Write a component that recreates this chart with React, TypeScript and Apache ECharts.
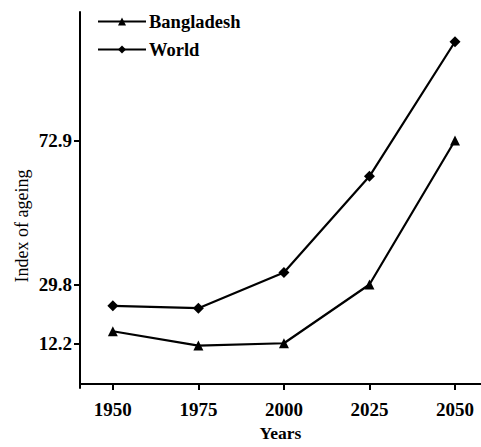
import React, { useEffect, useRef } from "react";
import * as echarts from "echarts";

const years = [1950, 1975, 2000, 2025, 2050];
const bangladesh = [15.8, 11.5, 12.2, 29.8, 72.9];
const world = [23.4, 22.7, 33.4, 62.2, 102.5];
const yTicks = [12.2, 29.8, 72.9];
const seriesNames = ["Bangladesh", "World"];

const FONT = "'Liberation Serif', 'Times New Roman', serif";

export default function App() {
  const ref = useRef<HTMLDivElement>(null);
  useEffect(() => {
    if (!ref.current) return;
    const chart = echarts.init(ref.current, undefined, { renderer: "svg" });
    const axisLine = { show: true, lineStyle: { color: "#000", width: 2 } };
    chart.setOption({
      animation: false,
      backgroundColor: "#fff",
      textStyle: { fontFamily: FONT, color: "#000" },
      grid: { left: 80, right: 0, top: 12, bottom: 58 },
      legend: {
        orient: "vertical",
        left: 97,
        top: 12,
        padding: 0,
        itemWidth: 48,
        itemHeight: 10,
        itemGap: 9,
        data: seriesNames,
        textStyle: { fontFamily: FONT, fontSize: 18.5, color: "#000", fontWeight: "bold", padding: [0, 0, 0, -2] },
      },
      xAxis: {
        type: "value",
        min: 1940.4,
        max: 2057.6,
        axisLine,
        splitLine: { show: false },
        axisTick: { show: true, length: 6, lineStyle: { color: "#000", width: 2 }, customValues: years },
        axisLabel: {
          customValues: years,
          margin: 12,
          fontFamily: FONT,
          fontSize: 19,
          fontWeight: "bold",
          color: "#000",
          formatter: (v: number) => String(v),
        },
        name: "Years",
        nameLocation: "middle",
        nameGap: 36,
        nameTextStyle: { fontFamily: FONT, fontSize: 17.5, color: "#000", fontWeight: "bold" },
      },
      yAxis: {
        type: "value",
        min: -1.2,
        max: 111.4,
        axisLine,
        splitLine: { show: false },
        axisTick: { show: true, length: 6, lineStyle: { color: "#000", width: 2 }, customValues: yTicks },
        axisLabel: {
          customValues: yTicks,
          margin: 8,
          fontFamily: FONT,
          fontSize: 19,
          fontWeight: "bold",
          color: "#000",
          formatter: (v: number) => v.toFixed(1),
        },
      },
      graphic: [
        {
          type: "text",
          x: 22,
          y: 226,
          rotation: Math.PI / 2,
          style: {
            text: "Index of ageing",
            font: "18px 'Liberation Serif', serif",
            fill: "#000",
            align: "center",
            verticalAlign: "middle",
          },
        },
      ],
      series: [
        {
          name: seriesNames[0],
          type: "line",
          data: years.map((y, i) => [y, bangladesh[i]]),
          symbol: "triangle",
          symbolSize: 10,
          itemStyle: { color: "#000" },
          lineStyle: { color: "#000", width: 2.2 },
        },
        {
          name: seriesNames[1],
          type: "line",
          data: years.map((y, i) => [y, world[i]]),
          symbol: "diamond",
          symbolSize: 11,
          itemStyle: { color: "#000" },
          lineStyle: { color: "#000", width: 2.2 },
        },
      ],
    });
    return () => chart.dispose();
  }, []);
  return (
    <div
      ref={ref}
      style={{ position: "fixed", left: 0, top: 0, width: 481, height: 447, background: "#fff" }}
    />
  );
}
